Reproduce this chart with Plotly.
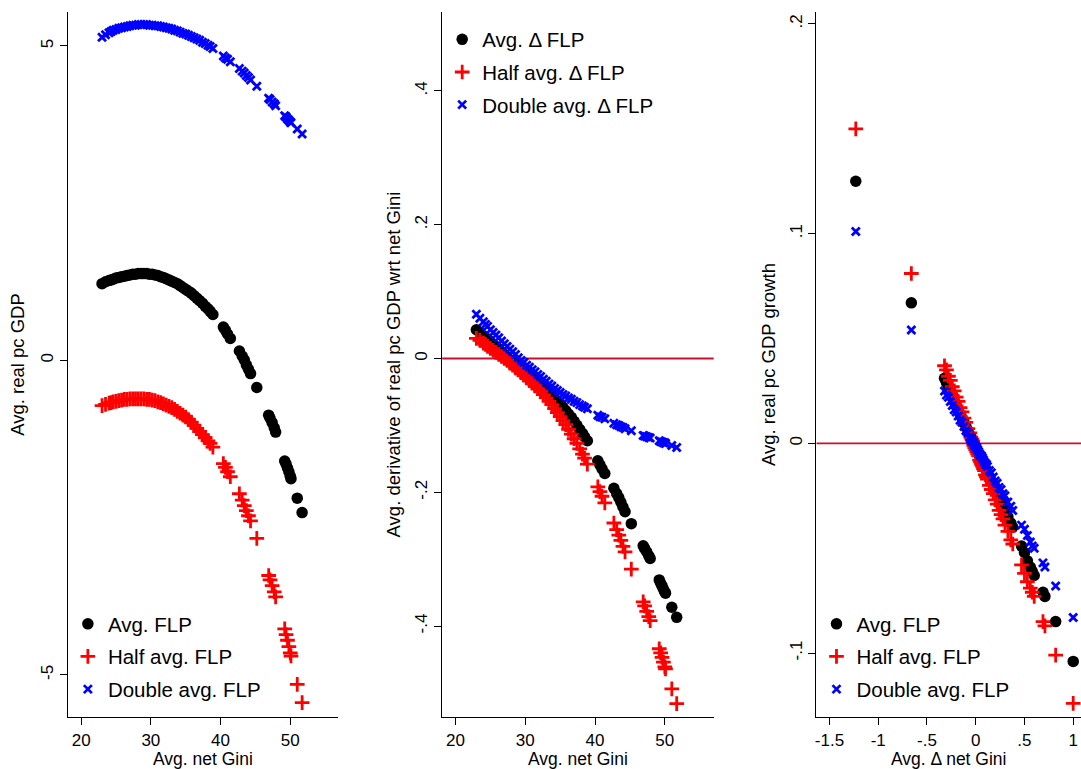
import plotly.graph_objects as go

# ---------------- data: panels 1 & 2 (shared x = Avg. net Gini) ----------------
gini = [23.0, 23.5, 24.0, 24.3, 24.6,
        25.0, 25.4, 25.8, 26.2, 26.6,
        27.0, 27.4, 27.8, 28.2, 28.6,
        29.0, 29.4, 29.8, 30.2, 30.6,
        31.0, 31.4, 31.8, 32.2, 32.6,
        33.0, 33.4, 33.8, 34.2, 34.6,
        35.0, 35.4, 35.8, 36.2, 36.6,
        37.0, 37.4, 37.8, 38.2, 38.5,
        38.9, 40.4, 40.7, 41.0, 41.4,
        42.7, 43.1, 43.4, 43.7, 44.0,
        44.3, 45.2, 46.9, 47.1, 47.4,
        47.7, 47.9, 49.2, 49.4, 49.6,
        49.8, 50.0, 50.1, 51.0, 51.7]

gdp_avg = [1.22, 1.25, 1.27, 1.28, 1.29,
           1.31, 1.32, 1.33, 1.34, 1.35,
           1.36, 1.37, 1.37, 1.38, 1.38,
           1.38, 1.38, 1.37, 1.37, 1.36,
           1.35, 1.33, 1.32, 1.30, 1.28,
           1.26, 1.24, 1.22, 1.19, 1.16,
           1.13, 1.10, 1.07, 1.03, 0.99,
           0.95, 0.91, 0.86, 0.82, 0.78,
           0.73, 0.53, 0.48, 0.42, 0.35,
           0.15, 0.07, 0.01, -0.07, -0.14,
           -0.21, -0.43, -0.87, -0.92, -0.99,
           -1.07, -1.14, -1.60, -1.65, -1.71,
           -1.77, -1.84, -1.88, -2.19, -2.42]

gdp_half = [-0.72, -0.70, -0.68, -0.67, -0.66,
            -0.65, -0.64, -0.63, -0.62, -0.62,
            -0.61, -0.61, -0.61, -0.61, -0.61,
            -0.61, -0.62, -0.62, -0.63, -0.64,
            -0.66, -0.67, -0.69, -0.71, -0.73,
            -0.75, -0.78, -0.81, -0.84, -0.87,
            -0.90, -0.94, -0.98, -1.03, -1.08,
            -1.13, -1.18, -1.23, -1.28, -1.32,
            -1.38, -1.64, -1.70, -1.77, -1.85,
            -2.12, -2.22, -2.31, -2.39, -2.47,
            -2.55, -2.83, -3.42, -3.49, -3.58,
            -3.68, -3.76, -4.27, -4.36, -4.45,
            -4.55, -4.65, -4.70, -5.15, -5.44]

gdp_double = [5.14, 5.18, 5.21, 5.23, 5.25,
              5.26, 5.28, 5.29, 5.30, 5.31,
              5.32, 5.33, 5.33, 5.34, 5.34,
              5.34, 5.34, 5.33, 5.33, 5.32,
              5.32, 5.31, 5.30, 5.29, 5.28,
              5.27, 5.25, 5.24, 5.22, 5.20,
              5.19, 5.17, 5.15, 5.13, 5.11,
              5.09, 5.06, 5.04, 5.01, 4.99,
              4.96, 4.84, 4.81, 4.79, 4.75,
              4.64, 4.60, 4.57, 4.53, 4.50,
              4.46, 4.36, 4.17, 4.15, 4.11,
              4.08, 4.05, 3.89, 3.87, 3.84,
              3.82, 3.79, 3.78, 3.68, 3.60]

deriv_avg = [0.043, 0.039, 0.034, 0.031, 0.029,
             0.025, 0.021, 0.018, 0.014, 0.010,
             0.006, 0.002, -0.002, -0.005, -0.009,
             -0.012, -0.016, -0.019, -0.022, -0.026,
             -0.029, -0.033, -0.036, -0.039, -0.043,
             -0.047, -0.051, -0.055, -0.060, -0.064,
             -0.068, -0.073, -0.078, -0.083, -0.088,
             -0.094, -0.100, -0.106, -0.112, -0.117,
             -0.123, -0.153, -0.159, -0.165, -0.172,
             -0.194, -0.202, -0.208, -0.215, -0.222,
             -0.229, -0.247, -0.280, -0.284, -0.289,
             -0.295, -0.299, -0.331, -0.336, -0.340,
             -0.345, -0.349, -0.351, -0.372, -0.387]

deriv_half = [0.030, 0.027, 0.023, 0.021, 0.018,
              0.015, 0.012, 0.009, 0.006, 0.003,
              0.000, -0.003, -0.007, -0.010, -0.014,
              -0.017, -0.021, -0.025, -0.029, -0.033,
              -0.037, -0.041, -0.045, -0.049, -0.054,
              -0.059, -0.064, -0.069, -0.075, -0.081,
              -0.087, -0.093, -0.099, -0.106, -0.113,
              -0.120, -0.127, -0.135, -0.143, -0.149,
              -0.158, -0.192, -0.199, -0.206, -0.216,
              -0.246, -0.256, -0.264, -0.272, -0.281,
              -0.289, -0.315, -0.364, -0.370, -0.378,
              -0.386, -0.392, -0.434, -0.440, -0.447,
              -0.454, -0.461, -0.464, -0.494, -0.516]

deriv_double = [0.066, 0.060, 0.055, 0.051, 0.048,
                0.043, 0.039, 0.035, 0.031, 0.026,
                0.022, 0.018, 0.014, 0.010, 0.006,
                0.001, -0.003, -0.006, -0.010, -0.013,
                -0.017, -0.020, -0.024, -0.027, -0.031,
                -0.034, -0.038, -0.041, -0.045, -0.048,
                -0.051, -0.054, -0.056, -0.059, -0.061,
                -0.064, -0.066, -0.069, -0.071, -0.073,
                -0.075, -0.085, -0.087, -0.088, -0.090,
                -0.097, -0.099, -0.100, -0.102, -0.103,
                -0.105, -0.108, -0.115, -0.116, -0.117,
                -0.118, -0.119, -0.123, -0.124, -0.125,
                -0.126, -0.126, -0.127, -0.130, -0.133]

# ---------------- data: panel 3 (x = Avg. delta net Gini) ----------------
dgini = [-1.23, -0.66, -0.32, -0.30, -0.28, -0.26, -0.24, -0.22, -0.20, -0.18,
         -0.16, -0.14, -0.12, -0.10, -0.08, -0.06, -0.05, -0.04, -0.03, -0.02,
         -0.01, 0.00, 0.01, 0.02, 0.03, 0.04, 0.05, 0.06, 0.07, 0.08,
         0.09, 0.10, 0.11, 0.12, 0.14, 0.16, 0.18, 0.20, 0.22, 0.24,
         0.26, 0.28, 0.30, 0.33, 0.36, 0.38, 0.47, 0.50, 0.53, 0.56,
         0.58, 0.60, 0.69, 0.71, 0.82, 1.00]

growth_avg = [0.125, 0.067, 0.031, 0.029, 0.027, 0.025, 0.023, 0.020, 0.018, 0.016,
              0.014, 0.012, 0.010, 0.008, 0.006, 0.004, 0.003, 0.002, 0.001, 0.000,
              -0.001, -0.002, -0.003, -0.004, -0.005, -0.006, -0.007, -0.008, -0.009, -0.010,
              -0.011, -0.012, -0.013, -0.014, -0.016, -0.018, -0.020, -0.022, -0.024, -0.026,
              -0.028, -0.030, -0.032, -0.035, -0.038, -0.040, -0.049, -0.052, -0.056, -0.059,
              -0.061, -0.063, -0.071, -0.073, -0.085, -0.104]

growth_half = [0.150, 0.081, 0.037, 0.035, 0.032, 0.030, 0.027, 0.025, 0.022, 0.020,
               0.017, 0.015, 0.012, 0.010, 0.007, 0.005, 0.003, 0.002, 0.001, -0.001,
               -0.002, -0.003, -0.004, -0.005, -0.006, -0.008, -0.009, -0.010, -0.011, -0.012,
               -0.013, -0.015, -0.016, -0.017, -0.020, -0.022, -0.024, -0.027, -0.029, -0.032,
               -0.034, -0.036, -0.039, -0.042, -0.046, -0.048, -0.058, -0.062, -0.066, -0.069,
               -0.071, -0.073, -0.085, -0.087, -0.101, -0.124]

growth_double = [0.101, 0.054, 0.025, 0.023, 0.022, 0.020, 0.018, 0.016, 0.015, 0.013,
                 0.011, 0.010, 0.008, 0.006, 0.005, 0.003, 0.002, 0.001, 0.001, 0.000,
                 -0.001, -0.002, -0.002, -0.003, -0.004, -0.005, -0.006, -0.006, -0.007, -0.008,
                 -0.009, -0.010, -0.010, -0.011, -0.013, -0.014, -0.016, -0.018, -0.019, -0.021,
                 -0.022, -0.024, -0.025, -0.028, -0.030, -0.032, -0.039, -0.041, -0.044, -0.047,
                 -0.049, -0.050, -0.057, -0.059, -0.068, -0.083]

# tick labels
gini_ticks = [20, 30, 40, 50]
gdp_ticks = [-5, 0, 5]
gdp_ticktext = ["-5", "0", "5"]
deriv_ticks = [-0.4, -0.2, 0, 0.2, 0.4]
deriv_ticktext = ["-.4", "-.2", "0", ".2", ".4"]
dgini_ticks = [-1.5, -1, -0.5, 0, 0.5, 1]
dgini_ticktext = ["-1.5", "-1", "-.5", "0", ".5", "1"]
growth_ticks = [-0.1, 0, 0.1, 0.2]
growth_ticktext = ["-.1", "0", ".1", ".2"]
x_titles = ["Avg. net Gini", "Avg. net Gini", "Avg. Δ net Gini"]

# ---------------- styling ----------------
FONT = "Liberation Sans, Arial, Helvetica, sans-serif"
BLACK = "#000000"
RED = "#ff0000"
BLUE = "#0000ff"
REFLINE = "#c8102e"

W, H = 1081, 769
TOP, BOT = 12, 717
ydom = [1 - BOT / H, 1 - TOP / H]
doms = [[66 / W, 337 / W], [441 / W, 713 / W], [816 / W, 1.0]]


def m_circle():
    return dict(symbol="circle", size=11.5, color=BLACK, line=dict(width=0))


def m_plus():
    return dict(symbol="cross-thin", size=10.5, color=RED, line=dict(width=2.8, color=RED))


def m_x():
    return dict(symbol="x-thin", size=8, color=BLUE, line=dict(width=2.8, color=BLUE))


fig = go.Figure()

panels = [
    (gini, [gdp_avg, gdp_half, gdp_double],
     ["Avg. FLP", "Half avg. FLP", "Double avg. FLP"], "x", "y", "legend"),
    (gini, [deriv_avg, deriv_half, deriv_double],
     ["Avg. Δ FLP", "Half avg. Δ FLP", "Double avg. Δ FLP"], "x2", "y2", "legend2"),
    (dgini, [growth_avg, growth_half, growth_double],
     ["Avg. FLP", "Half avg. FLP", "Double avg. FLP"], "x3", "y3", "legend3"),
]
for xs, ys_list, names, xa, ya, lg in panels:
    for ys, name, mk, grp in zip(ys_list, names, [m_circle(), m_plus(), m_x()], ["a", "b", "c"]):
        fig.add_trace(go.Scatter(x=xs, y=ys, mode="markers", name=name, marker=mk,
                                 xaxis=xa, yaxis=ya, legend=lg,
                                 legendgroup=lg + grp, cliponaxis=False))

axis_common = dict(showgrid=False, zeroline=False, showline=True, linecolor=BLACK,
                   linewidth=1.3, ticks="outside", ticklen=7, tickwidth=1.3,
                   tickcolor=BLACK, mirror=False,
                   tickfont=dict(family=FONT, size=17, color=BLACK),
                   title_font=dict(family=FONT, size=18.5, color=BLACK))

fig.update_layout(
    width=W, height=H,
    margin=dict(l=0, r=0, t=0, b=0),
    paper_bgcolor="white", plot_bgcolor="white",
    font=dict(family=FONT, color=BLACK),
    xaxis=dict(domain=doms[0], range=[18.1, 56.9], tickvals=gini_ticks, anchor="y",
               **axis_common),
    yaxis=dict(domain=ydom, range=[-5.67, 5.54], tickvals=gdp_ticks, ticktext=gdp_ticktext,
               tickangle=-90, anchor="x",
               title=dict(text="Avg. real pc GDP", standoff=8), **axis_common),
    xaxis2=dict(domain=doms[1], range=[18.1, 57.0], tickvals=gini_ticks, anchor="y2",
                **axis_common),
    yaxis2=dict(domain=ydom, range=[-0.536, 0.518], tickvals=deriv_ticks, ticktext=deriv_ticktext,
                tickangle=-90, anchor="x2",
                title=dict(text="Avg. derivative of real pc GDP wrt net Gini", standoff=6),
                **axis_common),
    xaxis3=dict(domain=doms[2], range=[-1.633, 1.08], tickvals=dgini_ticks, ticktext=dgini_ticktext,
                anchor="y3", **axis_common),
    yaxis3=dict(domain=ydom, range=[-0.1305, 0.2057], tickvals=growth_ticks, ticktext=growth_ticktext,
                tickangle=-90, anchor="x3",
                title=dict(text="Avg. real pc GDP growth", standoff=6), **axis_common),
    showlegend=True,
)

# x-axis titles as annotations (precise placement under tick labels)
for ax, txt in zip(["x", "x2", "x3"], x_titles):
    fig.add_annotation(text=txt, xref=ax + " domain", x=0.5, yref="paper", y=1 - 759 / H,
                       xanchor="center", yanchor="middle", showarrow=False,
                       font=dict(family=FONT, size=17.5, color=BLACK))

legend_common = dict(font=dict(family=FONT, size=20.5, color=BLACK), bgcolor="rgba(0,0,0,0)",
                     borderwidth=0, tracegroupgap=3, traceorder="grouped",
                     xanchor="left", yanchor="top")
fig.update_layout(
    legend=dict(x=66 / W, y=1 - 604 / H, **legend_common),
    legend2=dict(x=441 / W, y=1 - 19.5 / H, **legend_common),
    legend3=dict(x=816 / W, y=1 - 604 / H, **legend_common),
)

# horizontal reference lines at zero in panels 2 and 3
for xr, yr in [("x2 domain", "y2"), ("x3 domain", "y3")]:
    fig.add_shape(type="line", xref=xr, yref=yr, x0=0, x1=1, y0=0, y1=0,
                  line=dict(color=REFLINE, width=1.8), layer="below")

fig.write_html("out.html")
